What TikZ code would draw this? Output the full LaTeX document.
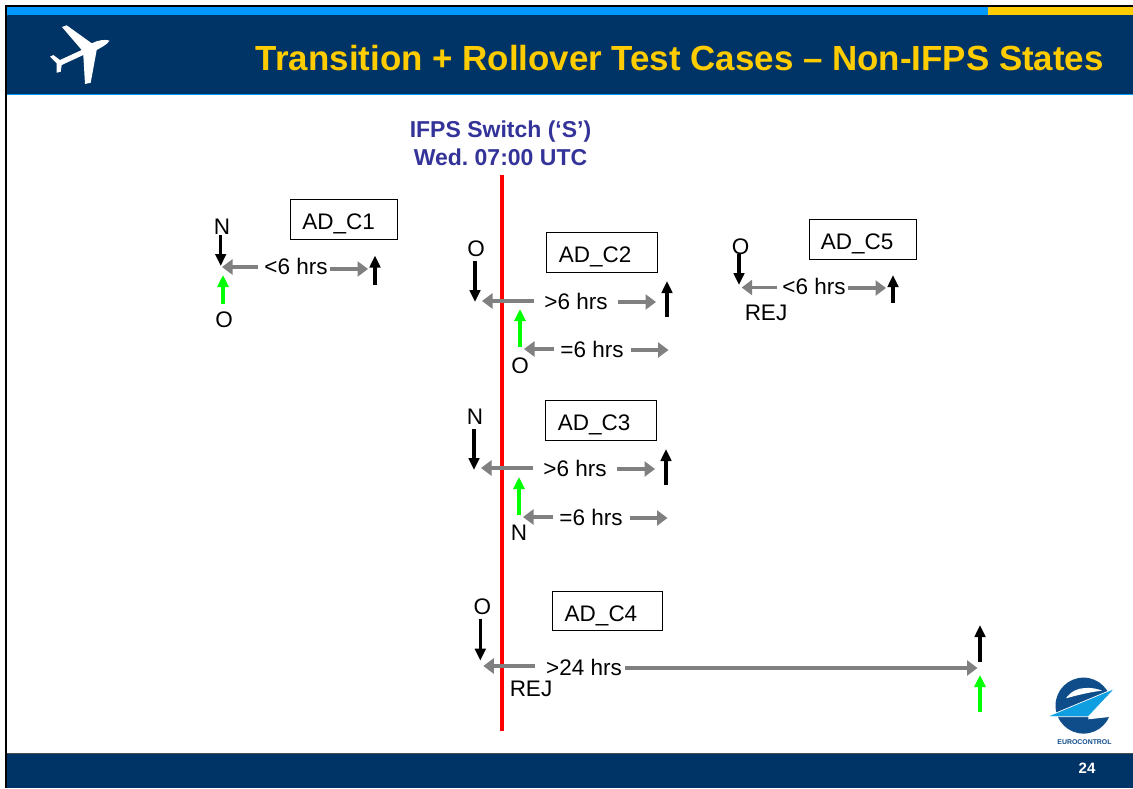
\documentclass[tikz,border=0pt]{standalone}
\usepackage{fontspec}
\setmainfont{Liberation Sans}
\usetikzlibrary{arrows.meta}
\definecolor{navy}{HTML}{003366}
\definecolor{skyb}{HTML}{0099FF}
\definecolor{gold}{HTML}{FFCC00}
\definecolor{swblue}{HTML}{333399}
\definecolor{ecblue}{HTML}{0F4C8A}
\definecolor{eclight}{HTML}{0F9FE0}
\tikzset{
  lbl/.style={inner sep=0pt,font=\fontsize{22.5}{26}\selectfont,text=black,anchor=center},
  casebox/.style={draw=black,line width=0.9pt,fill=white,minimum width=110.5pt,minimum height=39.7pt,inner sep=0pt,text height=20pt,text depth=0pt,font=\fontsize{22.5}{26}\selectfont},
  blk/.style={draw=black,line width=3.3pt,-{Triangle[length=12pt,width=10.5pt]}},
  grn/.style={draw=green,line width=3.3pt,-{Triangle[length=12pt,width=11pt,fill=green]}},
  gry/.style={draw=gray,line width=3.5pt,-{Triangle[length=10.5pt,width=15pt]}},
}
\begin{document}
\frenchspacing
\begin{tikzpicture}[x=1pt,y=-1pt]
\useasboundingbox (0,0) rectangle (1133,788);
\fill[white] (0,0) rectangle (1133,788);
% header
\fill[navy] (6,15) rectangle (1133,94);
\fill[skyb] (6,7) rectangle (988,15);
\fill[gold] (988,7) rectangle (1133,15);
\fill[skyb] (6,94) rectangle (1133,95.4);
\fill[black] (5,5) rectangle (1133,7);
\fill[black] (5,5) rectangle (7,788);
% plane
\fill[white] (62,27) -- (66.7,25.3) -- (91.7,43.3) .. controls (98,40) and (106,39) .. (109.5,40.7) .. controls (107,45) and (100,48) .. (96.7,50) -- (90.7,82.7) -- (85,84) -- (83.3,55) -- (61.7,65) -- (60.7,71.7) -- (56.7,72.7) -- (56.7,63.3) -- (50,56.7) -- (53.3,55) -- (60,60) -- (81.7,50) -- cycle;
% footer
\fill[navy] (7,754) rectangle (1133,788);
\fill[black!70] (7,753) rectangle (1133,754);
\node[inner sep=0pt,text=white,font=\bfseries\fontsize{15}{18}\selectfont] (pg) at (1087,768) {24};
% title
\node[inner sep=0pt,anchor=east,text=gold,font=\bfseries\fontsize{34.9}{40}\selectfont] (title) at (1104,58) {Transition + Rollover Test Cases – Non-IFPS States};
% switch
\node[inner sep=0pt,align=center,text=swblue,font=\bfseries\fontsize{23}{28}\selectfont] (sw) at (500.5,143) {IFPS Switch (‘S’)\\Wed. 07:00 UTC};
\coordinate (ra) at (501.7,175);
\coordinate (rb) at (501.7,731);
\draw[red,line width=3.8pt] (ra) -- (rb);
% boxes
\node[casebox,minimum width=107pt] (c1) at (344.2,219.5) {AD\_C1\hspace*{11pt}};
\node[casebox] (c2) at (601.7,252.5) {AD\_C2\hspace*{13pt}};
\node[casebox] (c3) at (600.7,420.5) {AD\_C3\hspace*{13pt}};
\node[casebox] (c4) at (607.5,611) {AD\_C4\hspace*{13pt}};
\node[casebox,minimum width=107pt] (c5) at (862.7,239.3) {AD\_C5\hspace*{11pt}};
% C1
\node[lbl] (n1) at (222,227) {N};
\node[lbl] (o1) at (224,320) {O};
\node[lbl] (t1) at (296,266) {<6 hrs};
\coordinate (a1) at (220.7,235); \coordinate (a1e) at (220.7,266);
\coordinate (g1) at (223,304); \coordinate (g1e) at (223,275);
\coordinate (b1) at (375,284.5); \coordinate (b1e) at (375,255.5);
\coordinate (p1) at (222,267);
\coordinate (q1) at (368,269);
\draw[blk] (a1) -- (a1e);
\draw[grn] (g1) -- (g1e);
\draw[blk] (b1) -- (b1e);
\draw[gry] (t1.west) ++(-6,1) -- (p1);
\draw[gry] (t1.east) ++(2,3) -- (q1);
% C2
\node[lbl] (o2) at (476,249) {O};
\node[lbl] (o2b) at (520,366) {O};
\node[lbl] (t2) at (576,301) {>6 hrs};
\node[lbl] (t2b) at (592,349) {=6 hrs};
\coordinate (a2) at (475,261); \coordinate (a2e) at (475,302);
\coordinate (g2) at (520,347); \coordinate (g2e) at (520,309);
\coordinate (b2) at (667,317); \coordinate (b2e) at (667,281);
\coordinate (p2) at (482,301); \coordinate (q2) at (656,302);
\coordinate (p2b) at (524,349); \coordinate (q2b) at (668.5,350);
\draw[blk] (a2) -- (a2e);
\draw[grn] (g2) -- (g2e);
\draw[blk] (b2) -- (b2e);
\draw[gry] (t2.west) ++(-10,0) -- (p2);
\draw[gry] (t2.east) ++(10,1) -- (q2);
\draw[gry] (t2b.west) ++(-6,0) -- (p2b);
\draw[gry] (t2b.east) ++(7,1) -- (q2b);
% C3
\node[lbl] (n3) at (475,417) {N};
\node[lbl] (n3b) at (519,533) {N};
\node[lbl] (t3) at (575,468) {>6 hrs};
\node[lbl] (t3b) at (591,517) {=6 hrs};
\coordinate (a3) at (474,429); \coordinate (a3e) at (474,470);
\coordinate (g3) at (519,515); \coordinate (g3e) at (519,477);
\coordinate (b3) at (666,485); \coordinate (b3e) at (666,449);
\coordinate (p3) at (481,468); \coordinate (q3) at (655,469);
\coordinate (p3b) at (523,517); \coordinate (q3b) at (667.5,518);
\draw[blk] (a3) -- (a3e);
\draw[grn] (g3) -- (g3e);
\draw[blk] (b3) -- (b3e);
\draw[gry] (t3.west) ++(-10,0) -- (p3);
\draw[gry] (t3.east) ++(10,1) -- (q3);
\draw[gry] (t3b.west) ++(-6,0) -- (p3b);
\draw[gry] (t3b.east) ++(7,1) -- (q3b);
% C4
\node[lbl] (o4) at (482.3,606.7) {O};
\node[lbl] (rej4) at (531,689) {REJ};
\node[lbl] (t4) at (584,667) {>24 hrs};
\coordinate (a4) at (480.3,619.3); \coordinate (a4e) at (480.3,660.7);
\coordinate (g4) at (980,712); \coordinate (g4e) at (980,675);
\coordinate (b4) at (980,662); \coordinate (b4e) at (980,625);
\coordinate (p4) at (483.3,666); \coordinate (q4) at (977.5,668);
\draw[blk] (a4) -- (a4e);
\draw[grn] (g4) -- (g4e);
\draw[blk] (b4) -- (b4e);
\draw[gry] (t4.west) ++(-11,-1) -- (p4);
\draw[gry] (t4.east) ++(3,1) -- (q4);
% C5
\node[lbl] (o5) at (740.7,246.7) {O};
\node[lbl] (rej5) at (766,312.7) {REJ};
\node[lbl] (t5) at (814,286) {<6 hrs};
\coordinate (a5) at (739,254); \coordinate (a5e) at (739,285);
\coordinate (b5) at (893,303); \coordinate (b5e) at (893,275);
\coordinate (p5) at (741.7,287.5); \coordinate (q5) at (886,288);
\draw[blk] (a5) -- (a5e);
\draw[blk] (b5) -- (b5e);
\draw[gry] (t5.west) ++(-5.5,1.5) -- (p5);
\draw[gry] (t5.east) ++(2,2) -- (q5);
% logo
\fill[ecblue] (1083.5,705.6) circle[radius=28];
\fill[white] (1115,688.3) -- (1088.3,716) -- (1088.3,719.3) -- (1111.7,716.7) -- (1116,703) -- cycle;
\fill[white] (1066,698.3) .. controls (1071,691) and (1078,688.3) .. (1085,688) .. controls (1092,687.5) and (1098,689) .. (1102,690.7) .. controls (1090,692) and (1078,695) .. cycle;
\fill[eclight,draw=white,line width=0.7pt] (1047,716.7) -- (1115,688.3) -- (1088.3,716.7) -- cycle;
\node[inner sep=0pt,text=ecblue,font=\bfseries\fontsize{6.9}{9}\selectfont] (logo) at (1084.5,742) {EUROCONTROL};
\end{tikzpicture}
\end{document}
